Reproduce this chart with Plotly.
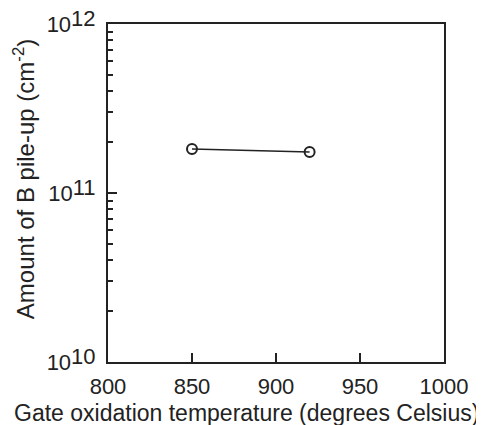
import plotly.graph_objects as go

temps = [850, 920]
pileup = [1.82e11, 1.75e11]

x_ticks = [800, 850, 900, 950, 1000]
y_ticks = [1e10, 1e11, 1e12]
y_exps = ["10", "11", "12"]
y_ticktext = ["10<span style='baseline-shift:6px'>%s</span>" % e for e in y_exps]
minor_vals = [m * 10 ** d for d in (10, 11) for m in range(2, 10)]

x_title = "Gate oxidation temperature (degrees Celsius)"
y_title = "Amount of B pile-up (cm<sup>-2</sup>)"

font_family = "Liberation Sans, Arial, sans-serif"
ink = "#222"

fig = go.Figure()
fig.add_trace(go.Scatter(
    x=temps, y=pileup, mode="lines+markers",
    line=dict(color=ink, width=1.5),
    marker=dict(symbol="circle-open", size=10, color=ink, line=dict(width=2)),
    showlegend=False,
))

fig.update_layout(
    width=484, height=425,
    margin=dict(l=100, r=48, t=16, b=71, autoexpand=False),
    paper_bgcolor="white", plot_bgcolor="white",
    font=dict(family=font_family, size=22, color=ink),
    xaxis=dict(
        range=[800, 1000], tickvals=x_ticks, ticks="inside", ticklen=9, tickwidth=1.5,
        tickcolor=ink, showline=True, linecolor=ink, linewidth=2, mirror=True,
        showgrid=False, zeroline=False, tickfont=dict(size=22), automargin=False,
        ticklabelstandoff=4, ticklabeloverflow="allow",
    ),
    yaxis=dict(
        type="log", range=[10, 12], tickvals=y_ticks, ticktext=y_ticktext,
        ticks="inside", ticklen=9, tickwidth=1.5, tickcolor=ink,
        showline=True, linecolor=ink, linewidth=2, mirror=True,
        showgrid=False, zeroline=False, tickfont=dict(size=22), automargin=False,
        minor=dict(tickvals=minor_vals, ticks="inside", ticklen=5, tickwidth=1.5, tickcolor=ink, showgrid=False),
        ticklabelstandoff=6, ticklabeloverflow="allow",
    ),
    annotations=[
        dict(text=x_title, xref="paper", yref="paper", x=0.411, y=-0.152,
             xanchor="center", yanchor="middle", showarrow=False, font=dict(size=23)),
        dict(text=y_title, xref="paper", yref="paper", x=-0.25, y=0.541, textangle=-90,
             xanchor="center", yanchor="middle", showarrow=False, font=dict(size=24)),
    ],
)

fig.write_html("out.html")
